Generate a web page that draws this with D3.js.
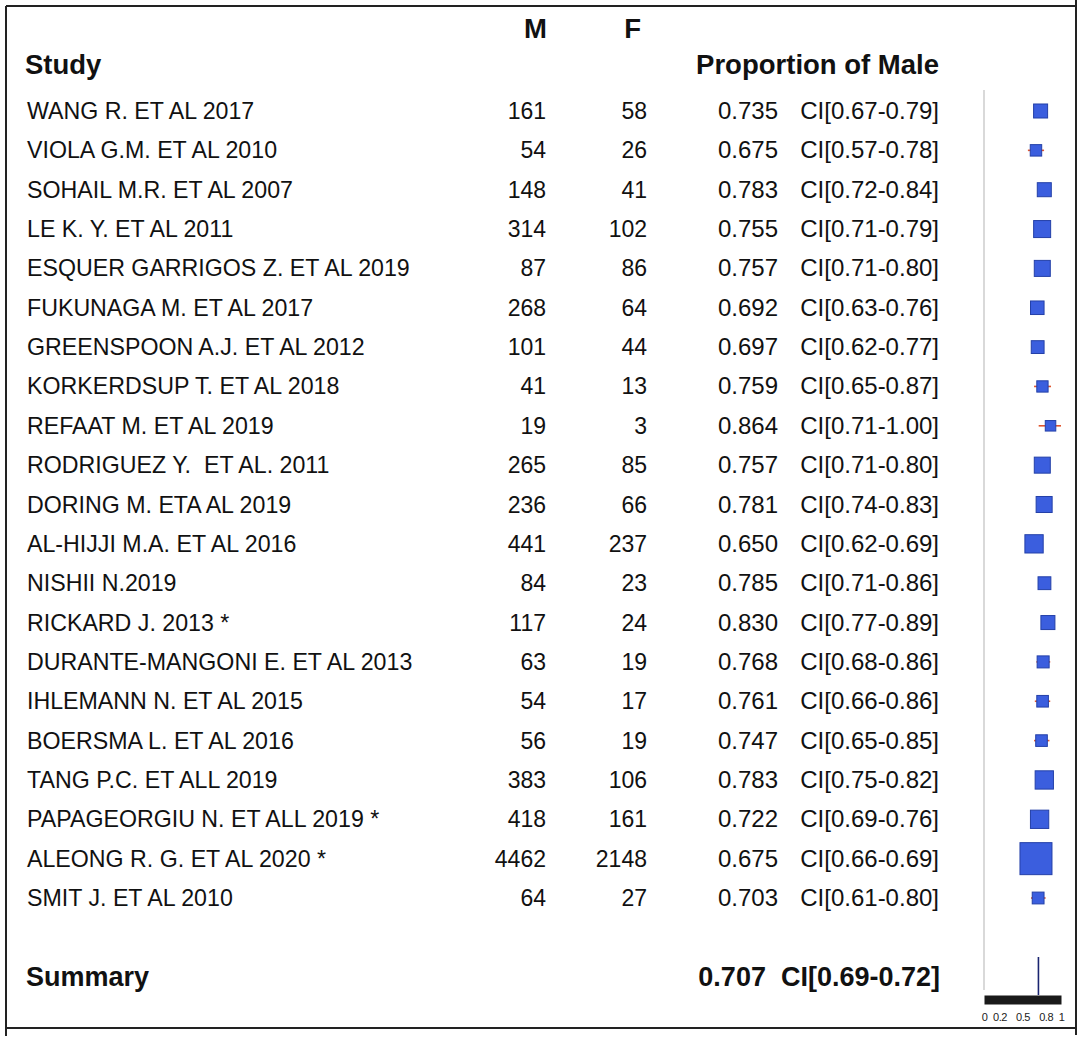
<!DOCTYPE html>
<html lang="en">
    <head>
        <meta charset="utf-8">
        <title>Proportion of Male</title>
        <script src="https://cdn.jsdelivr.net/npm/d3@7/dist/d3.min.js"></script>
        <style type="text/css">
            body { margin: 0; background: #fff; }
            text { font-family: "Liberation Sans", Arial, sans-serif; fill: #111; }
            .row { font-size: 23.2px; }
            .row .num { font-size: 23px; }
            .row .ci { font-size: 24px; }
            .head { font-size: 27.5px; font-weight: bold; }
            .axis text { font-size: 11px; fill: #222; }
        </style>
    </head>
    <body>
        <script type="text/javascript">

            var studies = ["WANG R. ET AL 2017", "VIOLA G.M. ET AL 2010", "SOHAIL M.R. ET AL 2007", "LE K. Y. ET AL 2011",
                "ESQUER GARRIGOS Z. ET AL 2019", "FUKUNAGA M. ET AL 2017", "GREENSPOON A.J. ET AL 2012", "KORKERDSUP T. ET AL 2018",
                "REFAAT M. ET AL 2019", "RODRIGUEZ Y.  ET AL. 2011", "DORING M. ETA AL 2019", "AL-HIJJI M.A. ET AL 2016",
                "NISHII N.2019", "RICKARD J. 2013 *", "DURANTE-MANGONI E. ET AL 2013", "IHLEMANN N. ET AL 2015",
                "BOERSMA L. ET AL 2016", "TANG P.C. ET ALL 2019", "PAPAGEORGIU N. ET ALL 2019 *", "ALEONG R. G. ET AL 2020 *",
                "SMIT J. ET AL 2010"];
            var males   = [161, 54, 148, 314, 87, 268, 101, 41, 19, 265, 236, 441, 84, 117, 63, 54, 56, 383, 418, 4462, 64];
            var females = [58, 26, 41, 102, 86, 64, 44, 13, 3, 85, 66, 237, 23, 24, 19, 17, 19, 106, 161, 2148, 27];
            var props   = [0.735, 0.675, 0.783, 0.755, 0.757, 0.692, 0.697, 0.759, 0.864, 0.757, 0.781, 0.650, 0.785, 0.830,
                0.768, 0.761, 0.747, 0.783, 0.722, 0.675, 0.703];
            var ciLow   = [0.67, 0.57, 0.72, 0.71, 0.71, 0.63, 0.62, 0.65, 0.71, 0.71, 0.74, 0.62, 0.71, 0.77, 0.68, 0.66, 0.65,
                0.75, 0.69, 0.66, 0.61];
            var ciHigh  = [0.79, 0.78, 0.84, 0.79, 0.80, 0.76, 0.77, 0.87, 1.00, 0.80, 0.83, 0.69, 0.86, 0.89, 0.86, 0.86, 0.85,
                0.82, 0.76, 0.69, 0.80];
            var summary = {prop: 0.707, low: 0.69, high: 0.72};
            var ticks = [0, 0.2, 0.5, 0.8, 1];

            var w = 1084, h = 1040;

            var rows = studies.map(function(s, i) {
                return {study: s, m: males[i], f: females[i], p: props[i], lo: ciLow[i], hi: ciHigh[i]};
            });

            var svg = d3.select("body").append("svg")
                .attr("width", w)
                .attr("height", h);

            var xScale = d3.scaleLinear().domain([0, 1]).range([984, 1061]);
            var yScale = d3.scalePoint().domain(studies).range([111, 898]);
            // square side from CI precision
            var sizeScale = d3.scaleLinear()
                .domain(d3.extent(rows, function(d) { return 1 / (d.hi - d.lo); }))
                .range([10.5, 32]);

            // frame
            var frame = svg.append("g").attr("stroke", "#222").attr("stroke-width", 2);
            frame.append("line").attr("x1", 6).attr("x2", 1077).attr("y1", 6).attr("y2", 6);
            frame.append("line").attr("x1", 6).attr("x2", 6).attr("y1", 6).attr("y2", 1036);
            frame.append("line").attr("x1", 6).attr("x2", 1077).attr("y1", 1028).attr("y2", 1028);
            frame.append("line").attr("x1", 1076).attr("x2", 1076).attr("y1", 0).attr("y2", 1035);

            // headers
            svg.append("text").attr("class", "head").attr("x", 547).attr("y", 38).attr("text-anchor", "end").text("M");
            svg.append("text").attr("class", "head").attr("x", 641).attr("y", 38).attr("text-anchor", "end").text("F");
            svg.append("text").attr("class", "head").attr("x", 25).attr("y", 74).text("Study");
            svg.append("text").attr("class", "head").attr("x", 939).attr("y", 74).attr("text-anchor", "end").text("Proportion of Male");

            // table rows
            var tr = svg.selectAll("g.tr").data(rows).enter().append("g")
                .attr("class", "tr row")
                .attr("transform", function(d) { return "translate(0," + (yScale(d.study) + 8) + ")"; });
            tr.append("text").attr("x", 27).text(function(d) { return d.study; }).style("white-space", "pre");
            tr.append("text").attr("class", "num").attr("x", 546).attr("text-anchor", "end").text(function(d) { return d.m; });
            tr.append("text").attr("class", "num").attr("x", 647).attr("text-anchor", "end").text(function(d) { return d.f; });
            tr.append("text").attr("class", "ci").attr("x", 778).attr("text-anchor", "end").text(function(d) { return d.p.toFixed(3); });
            tr.append("text").attr("class", "ci").attr("x", 939).attr("text-anchor", "end")
                .text(function(d) { return "CI[" + d.lo.toFixed(2) + "-" + d.hi.toFixed(2) + "]"; });

            // summary
            svg.append("text").attr("class", "head").attr("x", 26).attr("y", 986).style("font-size", "27px").text("Summary");
            svg.append("text").attr("class", "head").attr("x", 940).attr("y", 986).attr("text-anchor", "end")
                .style("white-space", "pre").style("font-size", "27px")
                .text(summary.prop.toFixed(3) + "  CI[" + summary.low.toFixed(2) + "-" + summary.high.toFixed(2) + "]");

            // plot
            svg.append("line")
                .attr("x1", xScale(0)).attr("x2", xScale(0))
                .attr("y1", 90).attr("y2", 990)
                .attr("stroke", "#d9d9d9").attr("stroke-width", 2);

            svg.selectAll("line.ci").data(rows).enter().append("line")
                .attr("class", "ci")
                .attr("x1", function(d) { return xScale(d.lo); })
                .attr("x2", function(d) { return xScale(d.hi); })
                .attr("y1", function(d) { return yScale(d.study); })
                .attr("y2", function(d) { return yScale(d.study); })
                .attr("stroke", "#e0552e").attr("stroke-width", 1.6);

            svg.selectAll("rect.pt").data(rows).enter().append("rect")
                .attr("class", "pt")
                .attr("x", function(d) { return xScale(d.p) - sizeScale(1 / (d.hi - d.lo)) / 2; })
                .attr("y", function(d) { return yScale(d.study) - sizeScale(1 / (d.hi - d.lo)) / 2; })
                .attr("width", function(d) { return sizeScale(1 / (d.hi - d.lo)); })
                .attr("height", function(d) { return sizeScale(1 / (d.hi - d.lo)); })
                .attr("fill", "#3b5ede").attr("stroke", "#2440a8").attr("stroke-width", 1);

            svg.append("line")
                .attr("x1", xScale(summary.prop)).attr("x2", xScale(summary.prop))
                .attr("y1", 957).attr("y2", 995)
                .attr("stroke", "#1a2470").attr("stroke-width", 1.6);

            var xAxis = d3.axisBottom(xScale)
                .tickValues(ticks)
                .tickSize(0)
                .tickPadding(14)
                .tickFormat(function(d) { return String(d); });
            var ax = svg.append("g")
                .attr("class", "axis")
                .attr("transform", "translate(0,999.5)")
                .call(xAxis);
            ax.select(".domain").attr("stroke", "#1a1a1a").attr("stroke-width", 9);
            ax.selectAll("text").attr("letter-spacing", "-0.5px");

        </script>
    </body>
</html>
